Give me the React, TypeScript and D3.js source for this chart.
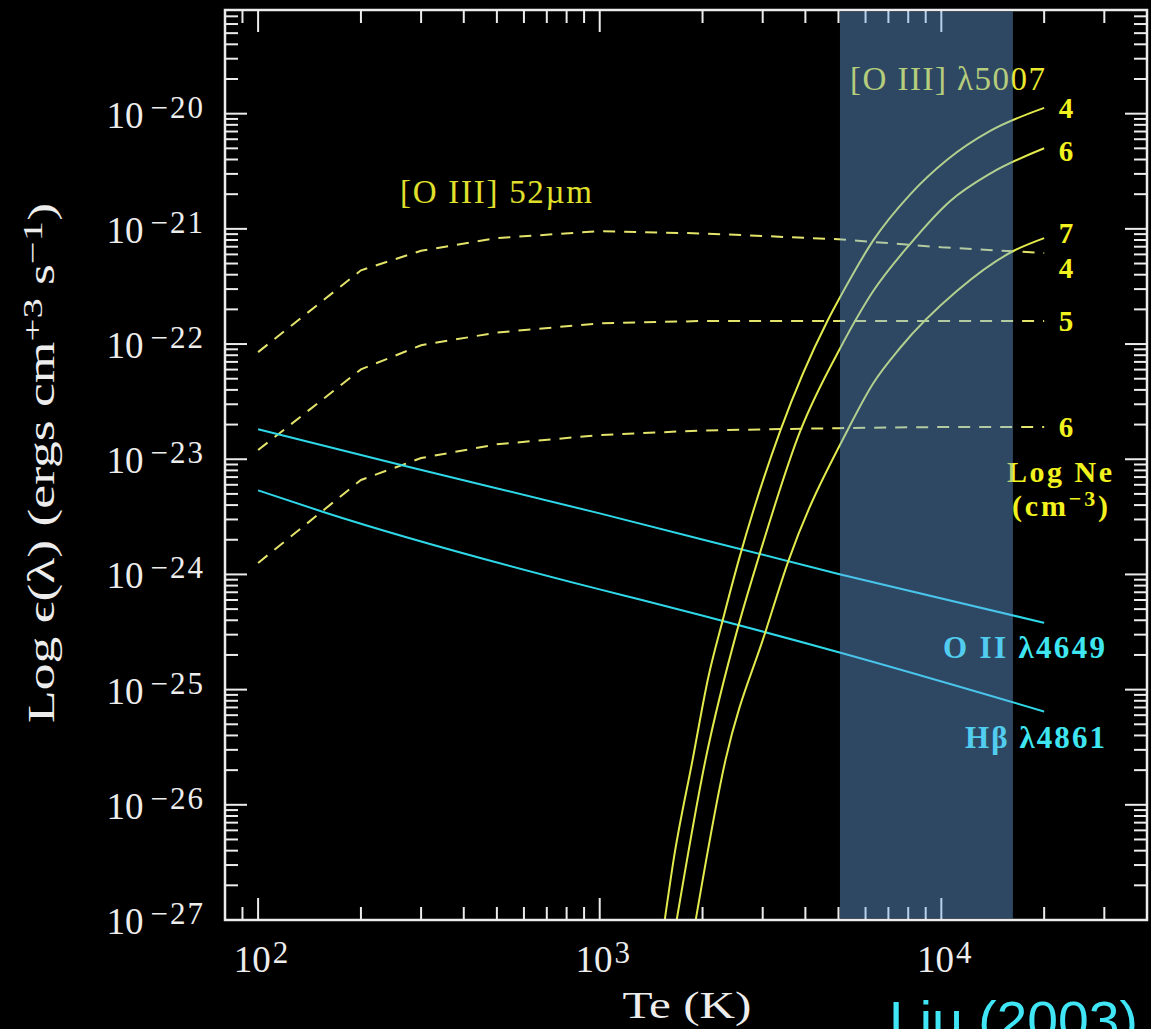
import React from "react";
import * as d3 from "d3";

const W = 1151;
const H = 1029;

// ---- data: temperatures in K, emissivities as log10(erg cm^3 s^-1) ----

// [O III] 52µm, one curve per log Ne
const ir52Temps = [100, 200, 300, 500, 1000, 2000, 5000, 10000, 20000];
const ir52Ne4 = [-22.07, -21.36, -21.19, -21.08, -21.02, -21.04, -21.09, -21.16, -21.21];
const ir52Ne5 = [-22.92, -22.22, -22.01, -21.9, -21.82, -21.8, -21.8, -21.8, -21.8];
const ir52Ne6 = [-23.9, -23.18, -22.99, -22.87, -22.79, -22.75, -22.73, -22.72, -22.72];
const ir52Labels = ["4", "5", "6"];

// [O III] λ5007, one curve per log Ne
const opt5007TempsA = [1550, 1645, 1870, 2080, 2290, 2550, 3380, 4640, 5170, 6320, 8110, 10400, 13900, 20000];
const opt5007NeA = [-27.0, -26.48, -25.61, -24.89, -24.4, -23.88, -22.75, -21.8, -21.54, -21.1, -20.7, -20.4, -20.15, -19.95];
const opt5007TempsB = [1680, 2040, 2550, 2900, 3870, 5070, 6320, 8110, 10600, 13900, 20000];
const opt5007NeB = [-27.0, -25.61, -24.44, -23.88, -22.75, -22.03, -21.54, -21.13, -20.76, -20.52, -20.3];
const opt5007TempsC = [1910, 2335, 3055, 3570, 5310, 6320, 7590, 11100, 16300, 20000];
const opt5007NeC = [-27.0, -25.61, -24.5, -23.88, -22.75, -22.34, -22.03, -21.54, -21.19, -21.08];
const opt5007Labels = ["4", "6", "7"];

// recombination lines
const oiiTemps = [100, 262, 1000, 5070, 20000];
const oii4649 = [-22.74, -23.05, -23.47, -24.0, -24.42];
const hbTemps = [100, 156, 1000, 1320, 5070, 20000];
const hb4861 = [-23.27, -23.46, -24.13, -24.22, -24.68, -25.19];

// shaded temperature range (K)
const bandRange = [5050, 16200];

// axis ticks
const xMajorExp = [2, 3, 4];
const yMajorExp = [-20, -21, -22, -23, -24, -25, -26, -27];

// ---- layout ----
const plot = { left: 225, right: 1147, top: 10, bottom: 920 };
const xDomain = [80, 40000];
const yDomain = [1e-27, Math.pow(10, -19.1)];

const x = d3.scaleLog().domain(xDomain).range([plot.left, plot.right]);
const y = d3.scaleLog().domain(yDomain).range([plot.bottom, plot.top]);

const zip = (ts: number[], es: number[]) => ts.map((t, i) => [t, es[i]] as [number, number]);

const lineLinear = d3
  .line<[number, number]>()
  .x((d) => x(d[0]))
  .y((d) => y(Math.pow(10, d[1])));

const lineSmooth = d3
  .line<[number, number]>()
  .x((d) => x(d[0]))
  .y((d) => y(Math.pow(10, d[1])))
  .curve(d3.curveMonotoneX);

const SERIF = "'Liberation Serif', 'DejaVu Serif', serif";
const FRAME = "#ececec";
const YELLOW_LABEL = "#f2f21e";
const DASH_COLOR = "#e4e46a";
const SOLID_Y = "#e2ea4c";
const CYAN = "#2fd8e8";
const CYAN_LABEL = "#3ee6f2";

function buildTicks(dMin: number, dMax: number, lo: number, hi: number) {
  const out: { v: number; major: boolean }[] = [];
  for (let d = dMin; d <= dMax; d++) {
    for (let m = 1; m <= 9; m++) {
      const v = m * Math.pow(10, d);
      if (v > lo * 1.0001 && v < hi * 0.9999) out.push({ v, major: m === 1 });
    }
  }
  return out;
}

const xTicks = buildTicks(1, 4, xDomain[0], xDomain[1]);
const yTicks = buildTicks(-27, -20, yDomain[0], yDomain[1]);

const ir52Series = [ir52Ne4, ir52Ne5, ir52Ne6];
const ir52LabelDy = [25, 10, 10];
const opt5007Series = [
  zip(opt5007TempsA, opt5007NeA),
  zip(opt5007TempsB, opt5007NeB),
  zip(opt5007TempsC, opt5007NeC),
];
const opt5007LabelDy = [10, 13, 5];

export default function App() {
  const MAJ = 22;
  const MIN = 13;
  return (
    <div style={{ position: "absolute", left: 0, top: 0 }}>
      <svg width={W} height={H} viewBox={`0 0 ${W} ${H}`} style={{ display: "block" }}>
        <defs>
          <clipPath id="plotArea">
            <rect x={plot.left} y={plot.top} width={plot.right - plot.left} height={plot.bottom - plot.top} />
          </clipPath>
        </defs>
        <rect x={0} y={0} width={W} height={H} fill="#000" />

        {/* curves */}
        <g clipPath="url(#plotArea)" fill="none" strokeWidth={2}>
          {ir52Series.map((s, i) => (
            <path
              key={"ir" + i}
              d={lineLinear(zip(ir52Temps, s)) || ""}
              stroke={DASH_COLOR}
              strokeDasharray="12 9"
            />
          ))}
          <path d={lineSmooth(zip(oiiTemps, oii4649)) || ""} stroke={CYAN} />
          <path d={lineSmooth(zip(hbTemps, hb4861)) || ""} stroke={CYAN} />
          {opt5007Series.map((s, i) => (
            <path key={"op" + i} d={lineSmooth(s) || ""} stroke={SOLID_Y} />
          ))}
        </g>

        {/* ticks */}
        <g stroke={FRAME} strokeWidth={2}>
          {xTicks.map((t, i) => {
            const px = x(t.v);
            const L = t.major ? MAJ : MIN;
            return (
              <g key={"xt" + i}>
                <line x1={px} x2={px} y1={plot.bottom} y2={plot.bottom - L} />
                <line x1={px} x2={px} y1={plot.top} y2={plot.top + L} />
              </g>
            );
          })}
          {yTicks.map((t, i) => {
            const py = y(t.v);
            const L = t.major ? MAJ : MIN;
            return (
              <g key={"yt" + i}>
                <line x1={plot.left} x2={plot.left + L} y1={py} y2={py} />
                <line x1={plot.right} x2={plot.right - L} y1={py} y2={py} />
              </g>
            );
          })}
        </g>
        <rect
          x={plot.left}
          y={plot.top}
          width={plot.right - plot.left}
          height={plot.bottom - plot.top}
          fill="none"
          stroke={FRAME}
          strokeWidth={2.5}
        />

        {/* tick labels */}
        <g fill="#ededed" fontFamily={SERIF}>
          {yMajorExp.map((e) => (
            <text key={"yl" + e} x={205} y={y(Math.pow(10, e)) + 14} textAnchor="end" fontSize={37}>
              10
              <tspan dx={7} dy={-10} fontSize={31} letterSpacing={2}>
                {"\u2212" + Math.abs(e)}
              </tspan>
            </text>
          ))}
          {xMajorExp.map((e) => (
            <text key={"xl" + e} x={x(Math.pow(10, e)) + 3} y={972} textAnchor="middle" fontSize={37}>
              10
              <tspan dx={2} dy={-9} fontSize={31}>
                {String(e)}
              </tspan>
            </text>
          ))}
        </g>

        {/* axis titles */}
        <g fill="#ededed" fontFamily={SERIF}>
          <text x={687} y={1018} textAnchor="middle" fontSize={38} textLength={129} lengthAdjust="spacingAndGlyphs">
            Te (K)
          </text>
          <text
            transform="translate(54,463) rotate(-90)"
            textAnchor="middle"
            fontSize={37}
            textLength={520}
            lengthAdjust="spacingAndGlyphs"
          >
            {"Log \u03f5(\u03bb)  (ergs  cm"}
            <tspan dy={-12} fontSize={28}>
              +3
            </tspan>
            <tspan dy={12}>{"  s"}</tspan>
            <tspan dy={-12} fontSize={28}>
              {"\u22121"}
            </tspan>
            <tspan dy={12}>)</tspan>
          </text>
        </g>

        {/* series labels */}
        <g fontFamily={SERIF}>
          <text x={400} y={203} fill="#e0e02c" fontSize={33} textLength={192} lengthAdjust="spacing">
            [O III] 52µm
          </text>
          <text x={850} y={90} fill="#e8e82e" fontSize={33} textLength={195} lengthAdjust="spacing">
            {"[O III] \u03bb5007"}
          </text>
          {opt5007Series.map((s, i) => (
            <text
              key={"ol" + i}
              x={1066}
              y={y(Math.pow(10, s[s.length - 1][1])) + opt5007LabelDy[i]}
              fill={YELLOW_LABEL}
              fontSize={29}
              fontWeight="bold"
              textAnchor="middle"
            >
              {opt5007Labels[i]}
            </text>
          ))}
          {ir52Series.map((s, i) => (
            <text
              key={"il" + i}
              x={1066}
              y={y(Math.pow(10, s[s.length - 1])) + ir52LabelDy[i]}
              fill={YELLOW_LABEL}
              fontSize={29}
              fontWeight="bold"
              textAnchor="middle"
            >
              {ir52Labels[i]}
            </text>
          ))}
          <text x={1007} y={482} fill={YELLOW_LABEL} fontSize={30} fontWeight="bold" textLength={105} lengthAdjust="spacing">
            Log Ne
          </text>
          <text x={1012} y={516} fill={YELLOW_LABEL} fontSize={30} fontWeight="bold" textLength={96} lengthAdjust="spacing">
            (cm
            <tspan dy={-10} fontSize={22}>
              {"\u22123"}
            </tspan>
            <tspan dy={10}>)</tspan>
          </text>
          <text x={943} y={658} fill={CYAN_LABEL} fontSize={31} fontWeight="bold" textLength={162} lengthAdjust="spacing">
            {"O II \u03bb4649"}
          </text>
          <text x={965} y={748} fill={CYAN_LABEL} fontSize={31} fontWeight="bold" textLength={140} lengthAdjust="spacing">
            {"H\u03b2 \u03bb4861"}
          </text>
        </g>

        {/* shaded temperature range */}
        <rect
          x={x(bandRange[0])}
          y={plot.top + 1.5}
          width={x(bandRange[1]) - x(bandRange[0])}
          height={plot.bottom - plot.top - 3}
          fill="rgb(110,170,235)"
          fillOpacity={0.42}
        />

        <text
          x={889}
          y={1039}
          fill="#40e6f6"
          fontFamily="'Liberation Sans', Arial, sans-serif"
          fontSize={54}
          textLength={249}
          lengthAdjust="spacingAndGlyphs"
        >
          Liu (2003)
        </text>
      </svg>
    </div>
  );
}
